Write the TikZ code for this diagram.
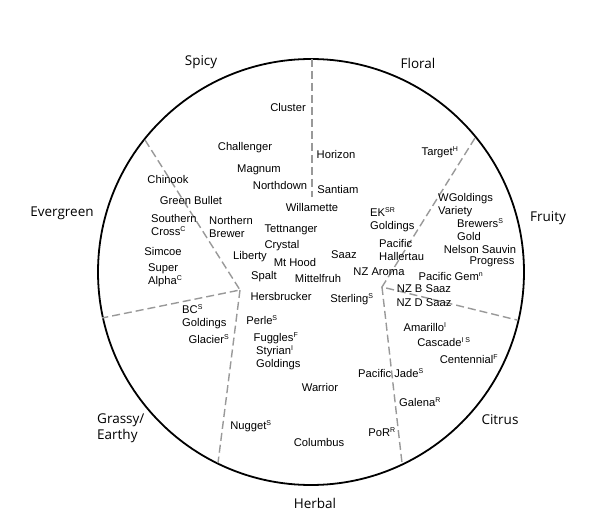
\documentclass[tikz,border=0pt]{standalone}
\usepackage{fontspec}
\setmainfont{Liberation Sans}
\newfontfamily\catfont{Open Sans}
\newcommand{\sps}[1]{\textsuperscript{\fontsize{7}{7}\selectfont #1}}
\begin{document}
\begin{tikzpicture}[x=1pt,y=-1pt,
  lbl/.style={inner sep=0pt, font=\fontsize{11.2}{13.2}\selectfont},
  ml/.style={lbl, align=left, anchor=west},
  cat/.style={inner sep=0pt, font=\catfont\fontsize{13.5}{16}\selectfont},
  divider/.style={draw=black!40, line width=1.4pt, dash pattern=on 8pt off 4pt},
  rim/.style={draw=black, line width=1.8pt}]
\useasboundingbox (0,0) rectangle (600,529);
\fill[white] (0,0) rectangle (600,529);

% outer circle
\coordinate (c) at (311,272);
\draw[rim] (c) circle (213);

% divider coordinates
\coordinate (t0) at (312,59);
\coordinate (t1) at (312,197);
\coordinate (lv) at (240,290);
\coordinate (lu) at (145,140);
\coordinate (ll) at (102,318);
\coordinate (lb) at (218,463);
\coordinate (rv) at (382,287);
\coordinate (ru) at (475,138);
\coordinate (rl) at (517,320);
\coordinate (rb) at (402,463);

\draw[divider] (t0) -- (t1);
\draw[divider] (lu) -- (lv) -- (ll);
\draw[divider] (lv) -- (lb);
\draw[divider] (ru) -- (rv) -- (rl);
\draw[divider] (rv) -- (rb);

% category labels
\node[cat] (spicy) at (201,62) {Spicy};
\node[cat] (floral) at (418,63) {Floral};
\node[cat] (evergreen) at (62,213) {Evergreen};
\node[cat] (fruity) at (548,218) {Fruity};
\node[cat] (citrus) at (500,420) {Citrus};
\node[cat] (herbal) at (315,503) {Herbal};
\node[cat, align=left, anchor=west] (grassy) at (97,428) {Grassy/\\Earthy};

% hop labels
\node[lbl] (cluster) at (288,107) {Cluster};
\node[lbl] (challenger) at (245,148) {Challenger};
\node[lbl] (horizon) at (336,154) {Horizon};
\node[lbl] (magnum) at (259,170) {Magnum};
\node[lbl] (chinook) at (168,179) {Chinook};
\node[lbl] (northdown) at (280,185) {Northdown};
\node[lbl] (santiam) at (338,189) {Santiam};
\node[lbl] (greenbullet) at (191,200) {Green Bullet};
\node[lbl] (willamette) at (312,207) {Willamette};
\node[ml] (southerncross) at (151,225) {Southern\\Cross\sps{C}};
\node[ml] (northernbrewer) at (209,227) {Northern\\Brewer};
\node[lbl] (tettnanger) at (291,230) {Tettnanger};
\node[lbl] (crystal) at (282,246) {Crystal};
\node[lbl] (simcoe) at (163,251) {Simcoe};
\node[lbl] (saaz) at (344,255) {Saaz};
\node[lbl] (liberty) at (250,257) {Liberty};
\node[lbl] (mthood) at (295,262) {Mt Hood};
\node[ml] (superalpha) at (148,275) {Super\\Alpha\sps{C}};
\node[lbl] (spalt) at (264,277) {Spalt};
\node[lbl] (mittelfruh) at (318,278) {Mittelfruh};
\node[lbl] (hersbrucker) at (281,296) {Hersbrucker};

\node[lbl] (target) at (440,152) {Target\sps{H}};
\node[ml] (wgoldings) at (438,205) {WGoldings\\Variety};
\node[ml] (ekgoldings) at (370,220) {EK\sps{SR}\\Goldings};
\node[ml] (brewersgold) at (457,230) {Brewers\sps{S}\\Gold};
\node[ml] (pachallertau) at (379,250) {Pacific\\Hallertau};
\node[lbl] (nelson) at (480,249) {Nelson Sauvin};
\node[lbl] (progress) at (492,262) {Progress};
\node[lbl] (nzaroma) at (379,272) {NZ Aroma};
\node[lbl] (pacgem) at (451,276) {Pacific Gem\sps{n}};
\node[lbl] (nzbsaaz) at (424,289) {NZ B Saaz};
\node[lbl] (sterling) at (352,299) {Sterling\sps{S}};
\node[lbl] (nzdsaaz) at (424,303) {NZ D Saaz};

\node[ml] (bcgoldings) at (182,317) {BC\sps{S}\\Goldings};
\node[lbl] (perle) at (262,320) {Perle\sps{S}};
\node[lbl] (glacier) at (209,339) {Glacier\sps{S}};
\node[lbl] (fuggles) at (276,338) {Fuggles\sps{F}};
\node[ml] (styrian) at (256,358) {Styrian\sps{I}\\Goldings};
\node[lbl] (warrior) at (320,387) {Warrior};
\node[lbl] (nugget) at (251,426) {Nugget\sps{S}};
\node[lbl] (columbus) at (319,442) {Columbus};

\node[lbl] (amarillo) at (425,327) {Amarillo\sps{I}};
\node[lbl] (cascade) at (444,342) {Cascade\sps{I S}};
\node[lbl] (centennial) at (469,359) {Centennial\sps{F}};
\node[lbl] (pacjade) at (391,373) {Pacific Jade\sps{S}};
\node[lbl] (galena) at (420,402) {Galena\sps{R}};
\node[lbl] (por) at (382,432) {PoR\sps{R}};
\end{tikzpicture}
\end{document}
